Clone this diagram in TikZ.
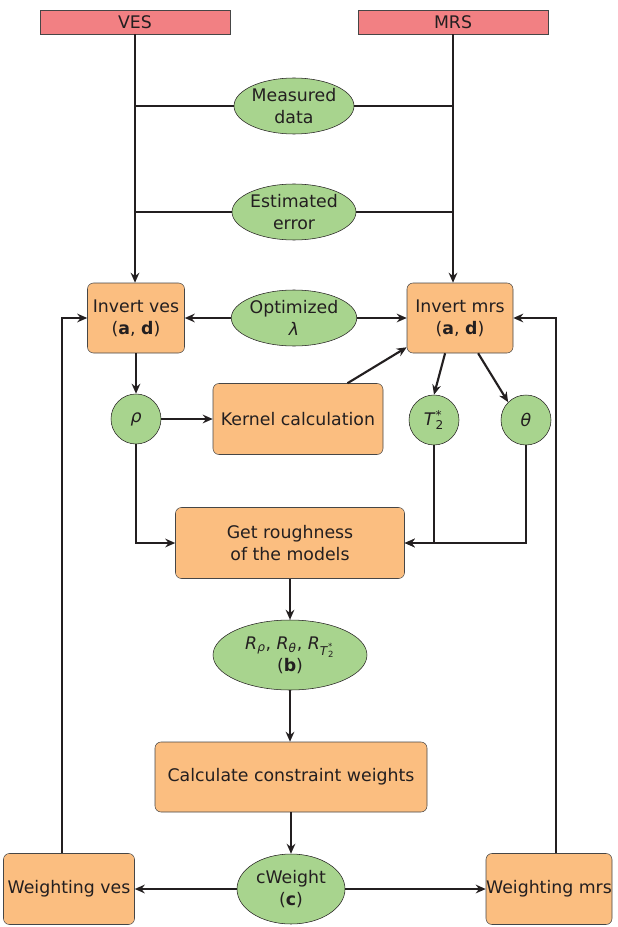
\documentclass[tikz,border=0pt]{standalone}
\usepackage{fontspec}
\setmainfont{DejaVu Sans}
\usetikzlibrary{arrows.meta,shapes.geometric,calc}
\definecolor{srcred}{RGB}{242,128,131}
\definecolor{stepor}{RGB}{251,190,128}
\definecolor{datagr}{RGB}{168,212,142}
\definecolor{edgegr}{RGB}{70,70,70}
\definecolor{linek}{RGB}{35,31,32}
\newcommand{\tstar}{\textit{T}\rlap{\textsuperscript{*}}\textsubscript{2}}
\begin{document}
\begin{tikzpicture}[x=0.75pt,y=-0.75pt,
  font=\fontsize{13}{16.5}\selectfont, text=linek,
  srcbox/.style={draw=edgegr,fill=srcred,minimum width=142.5pt,minimum height=18pt,inner sep=0pt},
  stepbox/.style={draw=edgegr,fill=stepor,rounded corners=4.5pt,align=center,inner sep=0pt},
  databox/.style={draw=linek,fill=datagr,ellipse,align=center,inner sep=0pt},
  symbox/.style={draw=linek,fill=datagr,circle,minimum size=37.5pt,inner sep=0pt},
  conn/.style={draw=linek,line width=1.6pt},
  flow/.style={conn,-{Stealth[length=7.5pt,width=6.5pt]}}]
\useasboundingbox (0,0) rectangle (617,927);
\node[srcbox] (ves) at (135,22) {VES};
\node[srcbox] (mrs) at (453,22) {MRS};
\node[databox,minimum width=90pt,minimum height=42pt] (meas) at (294,106) {Measured\\data};
\node[databox,minimum width=93pt,minimum height=42pt] (esterr) at (294,212) {Estimated\\error};
\node[databox,minimum width=93pt,minimum height=42pt] (optlam) at (294,318) {Optimized\\\textit{λ}};
\node[stepbox,minimum width=72.75pt,minimum height=52.5pt] (inves) at (136,318) {Invert ves\\(\textbf{a}, \textbf{d})};
\node[stepbox,minimum width=79.5pt,minimum height=52.5pt] (inmrs) at (460,318) {Invert mrs\\(\textbf{a}, \textbf{d})};
\node[symbox] (rho) at (136,419) {\textit{ρ}};
\node[stepbox,minimum width=127.5pt,minimum height=53.25pt] (kern) at (298,419) {Kernel calculation};
\node[symbox] (t2) at (434,420) {\tstar};
\node[symbox] (theta) at (526,420) {\textit{θ}};
\node[stepbox,minimum width=171.75pt,minimum height=53.25pt] (rough) at (290,543) {Get roughness\\of the models};
\node[databox,minimum width=115.5pt,minimum height=52.5pt] (rvals) at (290,655) {\textit{R}\textsubscript{\textit{ρ}}, \textit{R}\textsubscript{\textit{θ}}, \textit{R}\textsubscript{\tstar}\\(\textbf{b})};
\node[stepbox,minimum width=204pt,minimum height=52.5pt] (calc) at (291,777) {Calculate constraint weights};
\node[databox,minimum width=81pt,minimum height=52.5pt] (cw) at (291,889) {cWeight\\(\textbf{c})};
\node[stepbox,minimum width=98.25pt,minimum height=53.25pt] (wves) at (69,889) {Weighting ves};
\node[stepbox,minimum width=94.5pt,minimum height=53.25pt] (wmrs) at (549,889) {Weighting mrs};
\coordinate (wvesup) at ($(wves.north)+(-7,0)$);
\coordinate (wmrsup) at ($(wmrs.north)+(7,0)$);
\coordinate (kernup) at ($(kern.north west)!0.79!(kern.north east)$);
\coordinate (t2out) at ($(inmrs.south west)!0.36!(inmrs.south east)$);
\coordinate (thout) at ($(inmrs.south west)!0.67!(inmrs.south east)$);
\draw[flow] (ves.south) -- (ves.south |- inves.north);
\draw[flow] (mrs.south) -- (mrs.south |- inmrs.north);
\draw[conn] (meas.west) -- (meas.west -| ves.south);
\draw[conn] (meas.east) -- (meas.east -| mrs.south);
\draw[conn] (esterr.west) -- (esterr.west -| ves.south);
\draw[conn] (esterr.east) -- (esterr.east -| mrs.south);
\draw[flow] (optlam.west) -- (inves.east);
\draw[flow] (optlam.east) -- (inmrs.west);
\draw[flow] (inves.south) -- (rho.north);
\draw[flow] (rho.east) -- (kern.west);
\draw[flow] (kernup) -- ($(inmrs.south west)+(0,-6)$);
\draw[flow] (t2out) -- (t2.north);
\draw[flow] (thout) -- (theta.north west);
\draw[flow] (rho.south) |- (rough.west);
\draw[flow] (theta.south) |- (rough.east);
\draw[flow] (t2.south) |- (rough.east);
\draw[flow] (rough.south) -- (rough.south |- rvals.north);
\draw[flow] (rvals.south) -- (rvals.south |- calc.north);
\draw[flow] (calc.south) -- (calc.south |- cw.north);
\draw[flow] (cw.west) -- (wves.east);
\draw[flow] (cw.east) -- (wmrs.west);
\draw[flow] (wvesup) |- (inves.west);
\draw[flow] (wmrsup) |- (inmrs.east);
\end{tikzpicture}
\end{document}
